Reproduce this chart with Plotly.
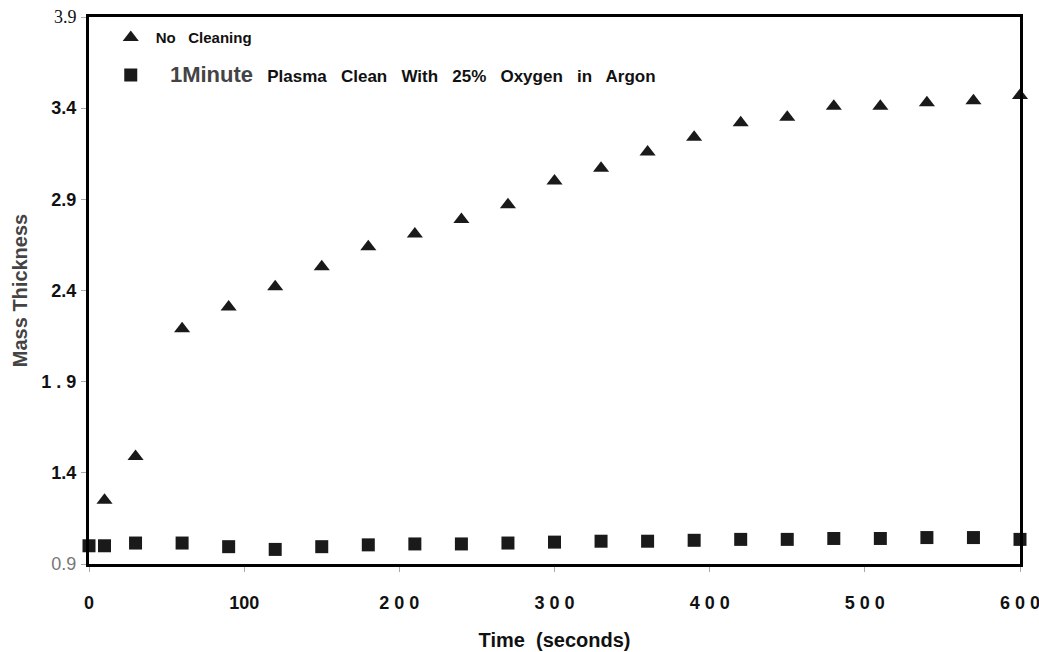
import plotly.graph_objects as go

time_tri = [10, 30, 60, 90, 120, 150, 180, 210, 240, 270, 300, 330, 360, 390,
            420, 450, 480, 510, 540, 570, 600]
no_cleaning = [1.25, 1.49, 2.19, 2.31, 2.42, 2.53, 2.64, 2.71, 2.79, 2.87, 3.00,
               3.07, 3.16, 3.24, 3.32, 3.35, 3.41, 3.41, 3.43, 3.44, 3.47]

time_sq = [0, 10, 30, 60, 90, 120, 150, 180, 210, 240, 270, 300, 330, 360, 390,
           420, 450, 480, 510, 540, 570, 600]
plasma_clean = [1.00, 1.00, 1.015, 1.015, 0.995, 0.98, 0.995, 1.005, 1.01, 1.01,
                1.015, 1.02, 1.025, 1.025, 1.03, 1.035, 1.035, 1.04, 1.04, 1.045,
                1.045, 1.035]

x_ticks = [0, 100, 200, 300, 400, 500, 600]
x_ticktext = ["0", "100", "2 0 0", "3 0 0", "4 0 0", "5 0 0", "6 0 0"]
y_ticks = [0.9, 1.4, 1.9, 2.4, 2.9, 3.4, 3.9]
y_ticktext = ["<span style='font-weight:normal;color:#777'>0.9</span>", "1.4", "1 . 9",
              "2.4", "2.9", "3.4",
              "<span style='font-family:Liberation Serif;font-weight:normal'>3.9</span>"]

FONT = "Liberation Sans, Arial, sans-serif"

fig = go.Figure()
fig.add_trace(go.Scatter(
    x=time_tri, y=no_cleaning, mode="markers",
    name="<b>No   Cleaning</b>",
    marker=dict(symbol="triangle-up", size=14, color="#1a1a1a"),
    cliponaxis=False, legend="legend", showlegend=True))
fig.add_trace(go.Scatter(
    x=time_sq, y=plasma_clean, mode="markers",
    name="<b>\u00a0\u00a0\u00a0<span style='font-size:22px;color:#444'>1Minute</span>   "
         "Plasma   Clean   With   25%   Oxygen   in   Argon</b>",
    marker=dict(symbol="square", size=13, color="#1a1a1a"),
    cliponaxis=False, legend="legend2", showlegend=True))

legend_common = dict(bgcolor="rgba(0,0,0,0)", xanchor="left", yanchor="middle",
                     itemwidth=40, visible=True)
fig.update_layout(
    width=1039, height=652,
    showlegend=True,
    margin=dict(l=89, r=19, t=17, b=88, autoexpand=False),
    paper_bgcolor="white", plot_bgcolor="white",
    font=dict(family=FONT, size=15, color="#111"),
    legend=dict(x=0.018, y=0.962, font=dict(family=FONT, size=15, color="#111"),
                **legend_common),
    legend2=dict(x=0.018, y=0.893, font=dict(family=FONT, size=17, color="#111"),
                 **legend_common),
    xaxis=dict(range=[0, 600], tickvals=x_ticks, ticktext=x_ticktext,
               showgrid=False, zeroline=False, showline=True, mirror=True,
               linecolor="black", linewidth=3, ticks="outside", ticklen=5,
               tickcolor="#aaa", ticklabelstandoff=15, automargin=False,
               ticklabeloverflow="allow",
               tickfont=dict(family=FONT, size=18, color="#111", weight="bold"),
               title=dict(text="<b>Time  (seconds)</b>", standoff=22,
                          font=dict(family=FONT, size=20, color="#111"))),
    yaxis=dict(range=[0.9, 3.9], tickvals=y_ticks, ticktext=y_ticktext,
               showgrid=False, zeroline=False, showline=True, mirror=True,
               linecolor="black", linewidth=3, ticks="outside", ticklen=5,
               tickcolor="#aaa", ticklabelstandoff=1, automargin=False,
               ticklabeloverflow="allow",
               tickfont=dict(family=FONT, size=18, color="#111", weight="bold"),
               title=dict(text="<b>Mass Thickness</b>", standoff=9,
                          font=dict(family=FONT, size=20, color="#444"))),
)

fig.write_html("out.html",
               config={"displayModeBar": False},
               post_script="document.body.style.margin='0';"
                           "document.body.style.overflow='hidden';")
